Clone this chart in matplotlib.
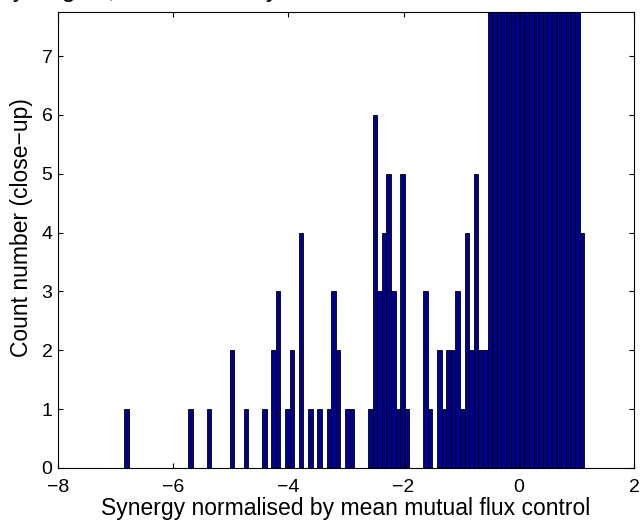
import matplotlib
matplotlib.use("Agg")
import matplotlib.pyplot as plt
import numpy as np

# Histogram: 100 bins of equal width starting at bin_start
bin_start = -6.854
bin_width = 0.0799
counts = [
    1, 0, 0, 0, 0, 0, 0, 0, 0, 0,   # 0-9
    0, 0, 0, 0, 1, 0, 0, 0, 1, 0,   # 10-19
    0, 0, 0, 2, 0, 0, 1, 0, 0, 0,   # 20-29
    1, 0, 2, 3, 0, 1, 2, 0, 4, 0,   # 30-39
    1, 0, 1, 0, 1, 3, 2, 0, 1, 1,   # 40-49
    0, 0, 0, 1, 6, 3, 4, 5, 3, 1,   # 50-59
    5, 1, 0, 0, 0, 3, 1, 0, 2, 1,   # 60-69
    2, 2, 3, 1, 4, 2, 5, 2, 2, 9,   # 70-79
    12, 15, 20, 26, 33, 41, 50, 58, 64, 66,  # 80-89 (off-scale)
    63, 57, 48, 39, 30, 22, 15, 10, 8, 4,    # 90-99
]
x_ticks = [-8, -6, -4, -2, 0, 2]
y_ticks = [0, 1, 2, 3, 4, 5, 6, 7]
x_label = "Synergy normalised by mean mutual flux control"
y_label = "Count number (close\u2212up)"
title_text = "Synergies, normalised by mean mutual flux control"

plt.rcParams['font.family'] = ['Liberation Sans', 'DejaVu Sans']

W, H = 643, 521
fig = plt.figure(figsize=(W / 100, H / 100), dpi=100)
ax = fig.add_axes([58 / W, (H - 468) / H, (634 - 58) / W, (468 - 12) / H])

centers = bin_start + bin_width * (np.arange(len(counts)) + 0.5)
ax.bar(centers, counts, width=bin_width, color=(0, 0, 0.5625),
       edgecolor='black', linewidth=0.6, align='center')

ax.set_xlim(-8, 2)
ax.set_ylim(0, 7.75)
ax.set_xticks(x_ticks)
ax.set_xticklabels([f"\u2212{abs(v)}" if v < 0 else str(v) for v in x_ticks])
ax.set_yticks(y_ticks)
ax.tick_params(direction='in', length=3.4, width=0.8, top=True, right=True,
               labelsize=14)
ax.tick_params(axis='x', pad=8)
ax.tick_params(axis='y', pad=4)
for s in ax.spines.values():
    s.set_linewidth(0.8)

ax.set_xlabel(x_label, fontsize=16.5, labelpad=1)
ax.set_ylabel(y_label, fontsize=16.5)
ax.yaxis.set_label_coords(-0.0434, 0.528)

fig.text(-4 / W, (H + 2.5) / H, title_text, fontsize=18.1, ha='left',
         va='baseline')

fig.savefig("out.png", dpi=100)
